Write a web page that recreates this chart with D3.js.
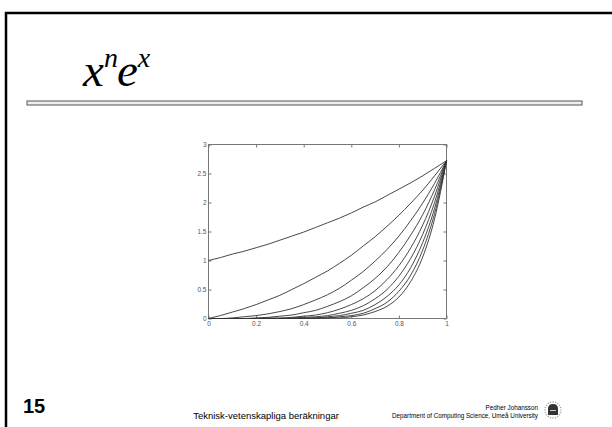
<!DOCTYPE html>
<html>
<head>
<meta charset="utf-8">
<script src="https://cdn.jsdelivr.net/npm/d3@7"></script>
<style>
  body { margin: 0; background: #fff; }
  svg { display: block; }
</style>
</head>
<body>
<svg width="612" height="427"></svg>
<script>
// x samples and x^n e^x values
var xs = [0, 0.05, 0.1, 0.15, 0.2, 0.25, 0.3, 0.35, 0.4, 0.45, 0.5,
  0.55, 0.6, 0.65, 0.7, 0.75, 0.8, 0.85, 0.9, 0.95, 1];
var n0 = [1, 1.05, 1.11, 1.16, 1.22, 1.28, 1.35, 1.42, 1.49, 1.57, 1.65,
  1.73, 1.82, 1.92, 2.01, 2.12, 2.23, 2.34, 2.46, 2.59, 2.72];
var n1 = [0, 0.05, 0.11, 0.17, 0.24, 0.32, 0.4, 0.5, 0.6, 0.71, 0.82,
  0.95, 1.09, 1.25, 1.41, 1.59, 1.78, 1.99, 2.21, 2.46, 2.72];
var n2 = [0, 0, 0.01, 0.03, 0.05, 0.08, 0.12, 0.17, 0.24, 0.32, 0.41,
  0.52, 0.66, 0.81, 0.99, 1.19, 1.42, 1.69, 1.99, 2.33, 2.72];
var n3 = [0, 0, 0, 0, 0.01, 0.02, 0.04, 0.06, 0.1, 0.14, 0.21,
  0.29, 0.39, 0.53, 0.69, 0.89, 1.14, 1.44, 1.79, 2.22, 2.72];
var n4 = [0, 0, 0, 0, 0, 0.01, 0.01, 0.02, 0.04, 0.06, 0.1,
  0.16, 0.24, 0.34, 0.48, 0.67, 0.91, 1.22, 1.61, 2.11, 2.72];
var n5 = [0, 0, 0, 0, 0, 0, 0, 0.01, 0.02, 0.03, 0.05,
  0.09, 0.14, 0.22, 0.34, 0.5, 0.73, 1.04, 1.45, 2.0, 2.72];
var n6 = [0, 0, 0, 0, 0, 0, 0, 0, 0.01, 0.01, 0.03,
  0.05, 0.09, 0.14, 0.24, 0.38, 0.58, 0.88, 1.31, 1.9, 2.72];
var n7 = [0, 0, 0, 0, 0, 0, 0, 0, 0, 0.01, 0.01,
  0.03, 0.05, 0.09, 0.17, 0.28, 0.47, 0.75, 1.18, 1.81, 2.72];
var n8 = [0, 0, 0, 0, 0, 0, 0, 0, 0, 0, 0.01,
  0.01, 0.03, 0.06, 0.12, 0.21, 0.37, 0.64, 1.06, 1.72, 2.72];
var series = [n0, n1, n2, n3, n4, n5, n6, n7, n8];

var xTicks = [0, 0.2, 0.4, 0.6, 0.8, 1];
var yTicks = [0, 0.5, 1, 1.5, 2, 2.5, 3];

var svg = d3.select("svg");

// slide frame (runs off the right and bottom edges)
svg.append("path")
  .attr("d", "M620,13H6V440")
  .attr("fill", "none")
  .attr("stroke", "#000")
  .attr("stroke-width", 2.5);

// title x^n e^x
var title = svg.append("text")
  .attr("x", 83)
  .attr("y", 86)
  .attr("font-family", "'Liberation Serif', 'Times New Roman', serif")
  .attr("font-style", "italic")
  .attr("font-size", 47);
title.append("tspan").text("x");
title.append("tspan").attr("dy", -19).attr("font-size", 28).text("n");
title.append("tspan").attr("dy", 19).attr("dx", -1).text("e");
title.append("tspan").attr("dy", -19).attr("font-size", 28).text("x");

// rule under the title
svg.append("rect")
  .attr("x", 27).attr("y", 101)
  .attr("width", 555).attr("height", 4)
  .attr("fill", "#eee")
  .attr("stroke", "#555")
  .attr("stroke-width", 1);

// plot area
var pLeft = 208.5, pRight = 446.5, pTop = 144.5, pBottom = 318.5;
var x = d3.scaleLinear().domain([0, 1]).range([pLeft, pRight]);
var y = d3.scaleLinear().domain([0, 3]).range([pBottom, pTop]);

var fmt = function (d) { return String(d); };
var axisStyle = function (g) {
  g.select(".domain").remove();
  g.selectAll("line").attr("stroke", "#777");
  g.selectAll("text")
    .attr("fill", "#555")
    .attr("font-family", "'Liberation Sans', Arial, sans-serif")
    .attr("font-size", 6.5);
};

svg.append("g")
  .attr("transform", "translate(0," + pBottom + ")")
  .call(d3.axisBottom(x).tickValues(xTicks).tickFormat(fmt).tickSize(-3).tickPadding(3))
  .call(axisStyle);
svg.append("g")
  .attr("transform", "translate(0," + pTop + ")")
  .call(d3.axisTop(x).tickValues(xTicks).tickFormat("").tickSize(-3))
  .call(axisStyle);
svg.append("g")
  .attr("transform", "translate(" + pLeft + ",0)")
  .call(d3.axisLeft(y).tickValues(yTicks).tickFormat(fmt).tickSize(-3).tickPadding(2))
  .call(axisStyle);
svg.append("g")
  .attr("transform", "translate(" + pRight + ",0)")
  .call(d3.axisRight(y).tickValues(yTicks).tickFormat("").tickSize(-3))
  .call(axisStyle);

svg.append("rect")
  .attr("x", pLeft).attr("y", pTop)
  .attr("width", pRight - pLeft).attr("height", pBottom - pTop)
  .attr("fill", "none")
  .attr("stroke", "#777")
  .attr("stroke-width", 1);

var line = d3.line()
  .x(function (d, i) { return x(xs[i]); })
  .y(function (d) { return y(d); })
  .curve(d3.curveMonotoneX);

svg.append("g")
  .selectAll("path")
  .data(series)
  .enter()
  .append("path")
  .attr("d", line)
  .attr("fill", "none")
  .attr("stroke", "#333")
  .attr("stroke-width", 0.9);

// footer
svg.append("text")
  .attr("x", 23).attr("y", 413)
  .attr("font-family", "'Liberation Sans', Arial, sans-serif")
  .attr("font-weight", "bold")
  .attr("font-size", 20)
  .text("15");

svg.append("text")
  .attr("x", 266).attr("y", 419)
  .attr("text-anchor", "middle")
  .attr("font-family", "'Liberation Sans', Arial, sans-serif")
  .attr("font-size", 9.5)
  .text("Teknisk-vetenskapliga beräkningar");

var credit = svg.append("g")
  .attr("font-family", "'Liberation Sans', Arial, sans-serif")
  .attr("font-size", 6.3)
  .attr("text-anchor", "end");
credit.append("text").attr("x", 538).attr("y", 410).text("Pedher Johansson");
credit.append("text").attr("x", 538).attr("y", 418).text("Department of Computing Science, Umeå University");

// university seal
var seal = svg.append("g").attr("transform", "translate(553,410)");
seal.selectAll("circle")
  .data(d3.range(20))
  .enter()
  .append("circle")
  .attr("cx", function (d) { return 8 * Math.cos(d / 20 * 2 * Math.PI); })
  .attr("cy", function (d) { return 8 * Math.sin(d / 20 * 2 * Math.PI); })
  .attr("r", 0.8)
  .attr("fill", "#aaa");
seal.append("path")
  .attr("d", "M-5,5V-1Q-5,-6 0,-6Q5,-6 5,-1V5Z")
  .attr("fill", "#333");
seal.append("rect")
  .attr("x", -3).attr("y", 0).attr("width", 6).attr("height", 1)
  .attr("fill", "#ccc");
</script>
</body>
</html>
